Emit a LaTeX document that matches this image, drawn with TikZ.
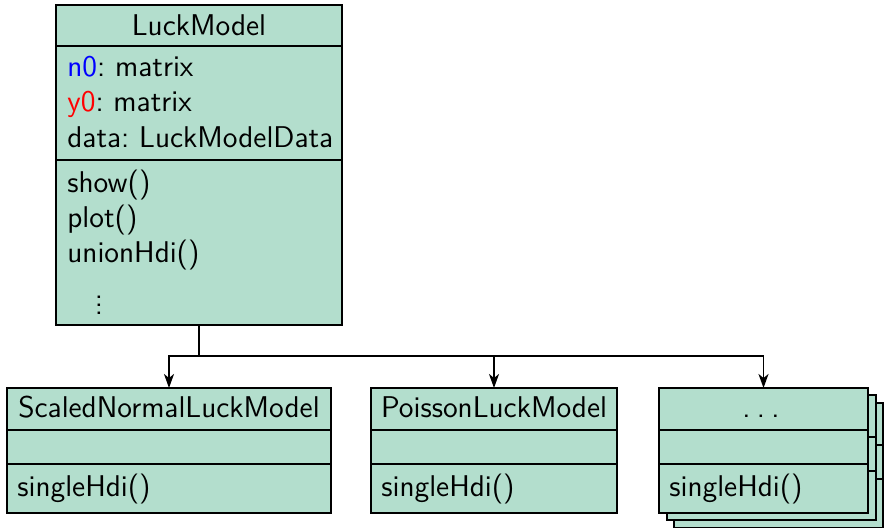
\documentclass[tikz,border=0pt]{standalone}
\usetikzlibrary{arrows.meta}
\definecolor{umlgreen}{RGB}{179,222,205}
\begin{document}
\frenchspacing
\begin{tikzpicture}[x=0.5pt,y=-0.5pt,
  font=\sffamily\fontsize{15}{18}\selectfont,
  part/.style={draw, line width=1pt, fill=umlgreen, anchor=north west, inner sep=0pt, outer sep=0pt},
  txt/.style={anchor=base west, inner sep=0pt},
  ctxt/.style={anchor=base, inner sep=0pt},
  arr/.style={line width=0.9pt, -{Stealth[length=7pt,width=5pt,inset=2pt]}}]
\useasboundingbox (0,0) rectangle (884,528);
% LuckModel
\node[part, minimum width=143pt, minimum height=20.5pt] (lmT) at (56,5) {};
\node[part, minimum width=143pt, minimum height=57pt] (lmA) at (56,46) {};
\node[part, minimum width=143pt, minimum height=82.5pt] (lmM) at (56,160) {};
\node[ctxt] (lmTt) at (199,36) {LuckModel};
\node[txt] (a1) at (67,77) {\textcolor{blue}{n0}: matrix};
\node[txt] (a2) at (67,112) {\textcolor{red}{y0}: matrix};
\node[txt] (a3) at (67,148) {data: LuckModelData};
\node[txt] (m1) at (67,193) {show()};
\node[txt] (m2) at (67,228) {plot()};
\node[txt] (m3) at (67,263) {unionHdi()};
\node[ctxt] (m4) at (99,315) {$\vdots$};
% ScaledNormalLuckModel
\node[part, minimum width=162pt, minimum height=21pt] (c1T) at (7,388) {};
\node[part, minimum width=162pt, minimum height=17pt] (c1A) at (7,430) {};
\node[part, minimum width=162pt, minimum height=24.5pt] (c1M) at (7,464) {};
\node[ctxt] (c1Tt) at (169,418) {ScaledNormalLuckModel};
\node[txt] (c1m) at (17,497) {singleHdi()};
% PoissonLuckModel
\node[part, minimum width=123pt, minimum height=21pt] (c2T) at (371,388) {};
\node[part, minimum width=123pt, minimum height=17pt] (c2A) at (371,430) {};
\node[part, minimum width=123pt, minimum height=24.5pt] (c2M) at (371,464) {};
\node[ctxt] (c2Tt) at (494,418) {PoissonLuckModel};
\node[txt] (c2m) at (381,497) {singleHdi()};
% stacked ...
\foreach \d/\n in {15/b, 7.5/a}{
  \node[part, minimum width=104.5pt, minimum height=21pt] (c3T\n) at (659+\d,388+\d) {};
  \node[part, minimum width=104.5pt, minimum height=17pt] (c3A\n) at (659+\d,430+\d) {};
  \node[part, minimum width=104.5pt, minimum height=24.5pt] (c3M\n) at (659+\d,464+\d) {};
}
\node[part, minimum width=104.5pt, minimum height=21pt] (c3T) at (659,388) {};
\node[part, minimum width=104.5pt, minimum height=17pt] (c3A) at (659,430) {};
\node[part, minimum width=104.5pt, minimum height=24.5pt] (c3M) at (659,464) {};
\node[ctxt] (c3Tt) at (761,418) {.\kern3.2pt.\kern3.2pt.};
\node[txt] (c3m) at (669,497) {singleHdi()};
% connectors
\draw[arr] (lmM.south) -- ++(0,31) -| (c1T.north);
\draw[arr] (lmM.south) -- ++(0,31) -| (c2T.north);
\draw[arr] (lmM.south) -- ++(0,31) -| (c3T.north);
\end{tikzpicture}
\end{document}
